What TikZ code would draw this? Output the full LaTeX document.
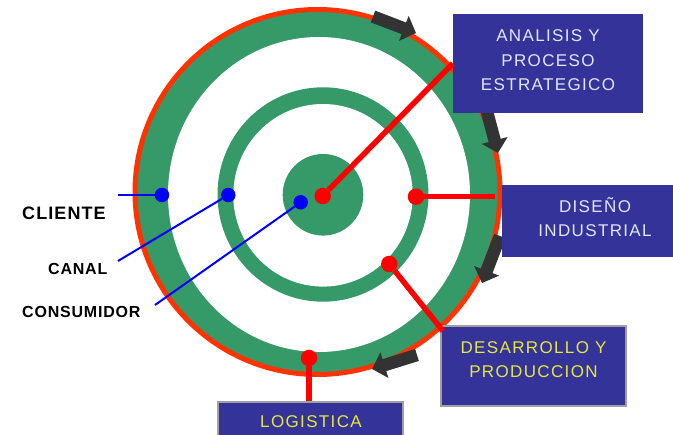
\documentclass[tikz,border=0pt]{standalone}
\usepackage{fontspec}
\setmainfont{Liberation Sans}
\usetikzlibrary{arrows.meta}

\definecolor{ringgreen}{RGB}{53,153,104}
\definecolor{rimred}{RGB}{255,51,0}
\definecolor{linkred}{RGB}{255,0,0}
\definecolor{linkblue}{RGB}{0,0,255}
\definecolor{boxblue}{RGB}{51,51,153}
\definecolor{palelavender}{RGB}{228,228,248}
\definecolor{boxyellow}{RGB}{232,232,60}
\definecolor{arrowgray}{RGB}{51,51,51}
\definecolor{framegray}{RGB}{160,160,160}

\tikzset{
  reddot/.style={circle, fill=linkred, inner sep=0pt, minimum size=16.5pt},
  bluedot/.style={circle, fill=linkblue, inner sep=0pt, minimum size=14.5pt},
  redlink/.style={draw=linkred, line width=5.5pt},
  bluelink/.style={draw=linkblue, line width=2pt},
  flowarrow/.style={draw=arrowgray, line width=12.5pt,
    -{Triangle[width=26pt,length=13pt]}},
  stagebox/.style={rectangle, fill=boxblue, inner sep=0pt},
  framedbox/.style={stagebox, draw=framegray, line width=2.5pt},
  % anchored on the baseline of the last line
  boxlabel/.style={anchor=base, inner sep=0pt, align=center,
    font=\fontsize{17}{24.5}\selectfont\addfontfeature{LetterSpace=8}},
  sidelabel/.style={anchor=base west, inner sep=0pt, text=black}
}

\begin{document}
\begin{tikzpicture}[x=1pt,y=-1pt]
\useasboundingbox (0,0) rectangle (673,435);
\clip (0,0) rectangle (673,435);

% outer rim: green band with a red edge
\filldraw[fill=ringgreen, draw=rimred, line width=5pt]
  (317.5,192) circle[radius=182.5pt];
\fill[white] (319,194.5) ellipse[x radius=151pt, y radius=157.5pt];

% middle ring
\fill[ringgreen] (323,194.5) ellipse[x radius=105.5pt, y radius=107.2pt];
\fill[white] (323,195.3) ellipse[x radius=89.7pt, y radius=91.3pt];

% core disk
\fill[ringgreen] (323,194.8) ellipse[x radius=40.3pt, y radius=40.8pt];

% clockwise flow arrows along the rim
\coordinate (f1a) at (373,16.5);  \coordinate (f1b) at (416,33);
\coordinate (f2a) at (486,108);   \coordinate (f2b) at (498,153);
\coordinate (f3a) at (500,236);   \coordinate (f3b) at (482,283);
\coordinate (f4a) at (417,355);   \coordinate (f4b) at (372,369);
\draw[flowarrow] (f1a) -- (f1b);
\draw[flowarrow] (f2a) -- (f2b);
\draw[flowarrow] (f3a) -- (f3b);
\draw[flowarrow] (f4a) -- (f4b);

% stage boxes
\node[stagebox, minimum width=190pt, minimum height=99pt] (analisis) at (548,63.5) {};
\node[stagebox, minimum width=188pt, minimum height=72pt] (diseno) at (596,221) {};
\node[framedbox, minimum width=185pt, minimum height=80pt] (desarrollo) at (533.5,366) {};
\node[framedbox, minimum width=185pt, minimum height=80pt] (logistica) at (310.5,442) {};

\node[boxlabel, text=palelavender] (analisistext) at (548,90.7)
  {ANALISIS Y\\PROCESO\\ESTRATEGICO};
\node[boxlabel, text=palelavender] (disenotext) at (595,236.7)
  {DISEÑO\\INDUSTRIAL};
\node[boxlabel, text=boxyellow] (desarrollotext) at (533.5,377.7)
  {DESARROLLO Y\\PRODUCCION};
\node[boxlabel, text=boxyellow] (logisticatext) at (311,427.3)
  {LOGISTICA};

% attachment points
\node[reddot] (core) at (322.7,196) {};
\node[reddot] (midright) at (416,196.7) {};
\node[reddot] (midlow) at (389.3,264) {};
\node[reddot] (rimlow) at (309,358) {};
\node[bluedot] (clientdot) at (162,195) {};
\node[bluedot] (canaldot) at (228.3,195) {};
\node[bluedot] (consumerdot) at (300.7,202.3) {};

% red links to the stage boxes
\coordinate (disenoend) at (495,196.7);
\coordinate (desarrolloend) at (443,331);
\draw[redlink] (core) -- (analisis.west);
\draw[redlink] (midright) -- (disenoend);
\draw[redlink] (midlow) -- (desarrolloend);
\draw[redlink] (rimlow) -- (rimlow |- logistica.north);

% blue links to the left labels
\coordinate (clientend) at (118,195);
\coordinate (canalend) at (118,261);
\coordinate (consumerend) at (155,305);
\draw[bluelink] (clientdot) -- (clientend);
\draw[bluelink] (canaldot) -- (canalend);
\draw[bluelink] (consumerdot) -- (consumerend);

% left labels
\node[sidelabel, font=\bfseries\fontsize{18}{20}\selectfont\addfontfeature{LetterSpace=6}]
  (clientelabel) at (22,219.5) {CLIENTE};
\node[sidelabel, font=\bfseries\fontsize{16}{18}\selectfont\addfontfeature{LetterSpace=5}]
  (canallabel) at (48,275) {CANAL};
\node[sidelabel, font=\bfseries\fontsize{16}{18}\selectfont\addfontfeature{LetterSpace=5}]
  (consumidorlabel) at (22,318) {CONSUMIDOR};
\end{tikzpicture}
\end{document}
